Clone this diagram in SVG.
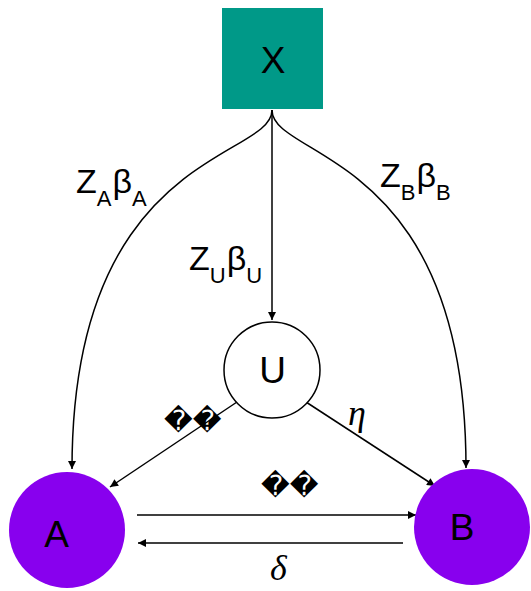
<svg xmlns="http://www.w3.org/2000/svg" width="531" height="591" viewBox="0 0 531 591">
<style>
.lbl{font-family:"Liberation Sans",Arial,sans-serif;font-size:34px;fill:#000}
.sub{font-size:22px}
.node{font-family:"Liberation Sans",Arial,sans-serif;font-size:37px;fill:#000;text-anchor:middle}
.greek{font-family:"Liberation Serif","DejaVu Serif",serif;font-style:italic;font-size:36px}
.rep{font-family:"DejaVu Sans",sans-serif;font-size:28px}
.edge{fill:none;stroke:#000;stroke-width:1.5;marker-end:url(#ah)}
</style>
<defs>
<marker id="ah" viewBox="0 0 10 10" refX="10" refY="5" markerWidth="9" markerHeight="8" markerUnits="userSpaceOnUse" orient="auto">
<path d="M0,0 L10,5 L0,10 z" fill="#000"/>
</marker>
</defs>
<rect width="531" height="591" fill="#fff"/>
<g id="connectors">
<path class="edge" d="M272,110 L272,320"/>
<path class="edge" d="M272,110 C272,160 72,150 72,469"/>
<path class="edge" d="M272,110 C272,160 466,150 466,468"/>
<path class="edge" d="M237,402 L110,487"/>
<path class="edge" d="M306,402 L435,486"/>
<path class="edge" d="M137,515 L416,515"/>
<path class="edge" d="M403,543 L138,543"/>
</g>
<g id="X">
<rect x="222" y="8" width="101" height="101" fill="#009988"/>
<text class="node" x="273" y="73">X</text>
</g>
<g id="U">
<circle cx="272" cy="370" r="48" fill="#fff" stroke="#000" stroke-width="1.5"/>
<text class="node" x="272.5" y="383">U</text>
</g>
<g id="A">
<circle cx="67" cy="530" r="58" fill="#8800ee"/>
<text class="node" x="56.5" y="547">A</text>
</g>
<g id="B">
<circle cx="472" cy="527" r="58" fill="#8800ee"/>
<text class="node" x="462" y="540">B</text>
</g>
<g id="labels">
<text class="lbl" x="76" y="193">Z<tspan class="sub" dy="13">A</tspan><tspan dx="1" dy="-13">β</tspan><tspan class="sub" dy="13">A</tspan></text>
<text class="lbl" x="380" y="187">Z<tspan class="sub" dy="13">B</tspan><tspan dx="1" dy="-13">β</tspan><tspan class="sub" dy="13">B</tspan></text>
<text class="lbl" x="189" y="270">Z<tspan class="sub" dy="13">U</tspan><tspan dx="1" dy="-13">β</tspan><tspan class="sub" dy="13">U</tspan></text>
<text class="greek" x="348" y="425">η</text>
<text class="greek" x="270" y="580">δ</text>
<text class="rep" x="164" y="430">��</text>
<text class="rep" x="261" y="495">��</text>
</g>
</svg>
